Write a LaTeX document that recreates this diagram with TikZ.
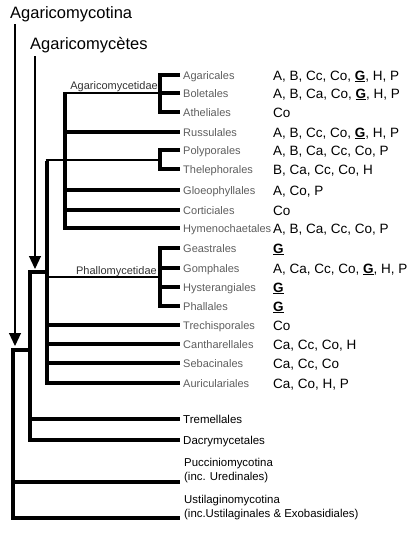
\documentclass[tikz,border=0pt]{standalone}
\usepackage{fontspec}
\setmainfont{Liberation Sans}
\usetikzlibrary{arrows.meta}
\definecolor{lblgray}{HTML}{5E5E5E}
\newcommand{\uG}{\underline{\textbf{G}}}
\begin{document}
\begin{tikzpicture}[x=1pt,y=-1pt,
  br/.style={line width=3.6pt},
  thinbr/.style={line width=1.9pt},
  ord/.style={anchor=base west, inner sep=0pt, font=\fontsize{11}{12}\selectfont, text=lblgray},
  ordb/.style={anchor=base west, inner sep=0pt, font=\fontsize{11.5}{13}\selectfont},
  ordc/.style={anchor=base west, inner sep=0pt, align=left, font=\fontsize{11.4}{14}\selectfont},
  dat/.style={anchor=base west, inner sep=0pt, font=\fontsize{13.5}{15}\selectfont},
  clade/.style={anchor=base east, inner sep=0pt, font=\fontsize{11}{12}\selectfont, text=black!80},
  ttl/.style={anchor=base west, inner sep=0pt, font=\fontsize{16.5}{19}\selectfont},
  arr/.style={line width=1.2pt, -{Triangle[width=12pt,length=13pt]}}]
\useasboundingbox (0,0) rectangle (414,536);

% titles and arrows
\node[ttl] (tA) at (10,18) {Agaricomycotina};
\node[ttl] (tB) at (30,49) {Agaricomycètes};
\coordinate (a1s) at (15,24);
\coordinate (a1e) at (15,346);
\coordinate (a2s) at (35,56);
\coordinate (a2e) at (35,269);
\draw[arr] (a1s) -- (a1e);
\draw[arr] (a2s) -- (a2e);

% leaf tips
\coordinate (agar) at (180,75);
\coordinate (bole) at (180,93);
\coordinate (athe) at (180,112);
\coordinate (russ) at (180,132);
\coordinate (poly) at (180,150);
\coordinate (thel) at (180,169);
\coordinate (gloe) at (180,190);
\coordinate (cort) at (180,210);
\coordinate (hyme) at (180,228);
\coordinate (geas) at (180,248);
\coordinate (gomp) at (180,268);
\coordinate (hyst) at (180,287);
\coordinate (phal) at (180,306);
\coordinate (trec) at (180,325);
\coordinate (cant) at (180,344);
\coordinate (seba) at (180,363);
\coordinate (auri) at (180,383);
\coordinate (trem) at (180,419);
\coordinate (dacr) at (180,440);
\coordinate (pucc) at (180,482);
\coordinate (usti) at (180,518);

% inner nodes
\coordinate (bAga) at (160,93);
\coordinate (bAgaT) at (160,75);
\coordinate (bAgaB) at (160,112);
\coordinate (bPol) at (160,160);
\coordinate (bPolT) at (160,150);
\coordinate (bPolB) at (160,169);
\coordinate (bPha) at (160,277);
\coordinate (bPhaT) at (160,248);
\coordinate (bPhaB) at (160,306);
\coordinate (nAgd) at (65,93);
\coordinate (nAgdB) at (65,228);
\coordinate (nAgc) at (47,160);
\coordinate (nAgcB) at (47,383);
\coordinate (nAgcL) at (45.5,160);
\coordinate (nTD) at (30,272);
\coordinate (nTDr) at (47,272);
\coordinate (nTDB) at (30,440);
\coordinate (nR) at (13,350);
\coordinate (nRr) at (30,350);
\coordinate (nRB) at (13,518);

% brackets
\draw[br] (agar) -- (bAgaT) -- (bAgaB) -- (athe);
\draw[br] (bole) -- (bAga);
\draw[br] (poly) -- (bPolT) -- (bPolB) -- (thel);
\draw[br] (geas) -- (bPhaT) -- (bPhaB) -- (phal);
\draw[br] (gomp -| bPha) -- (gomp);
\draw[br] (hyst -| bPha) -- (hyst);

% Agaricomycetidae
\draw[thinbr] (nAgd) -- (bAga);
\draw[br] ([yshift=0.95pt]nAgd) -- (nAgdB) -- (hyme);
\draw[br] (russ -| nAgd) -- (russ);
\draw[br] (gloe -| nAgd) -- (gloe);
\draw[br] (cort -| nAgd) -- (cort);
\node[clade] (lAgd) at (158,89) {Agaricomycetidae};

% Agaricomycetes backbone
\draw[thinbr] (nAgcL) -- (bPol);
\draw[br] ([yshift=-0.95pt]nAgc) -- (nAgcB) -- (auri);
\draw[thinbr] (bPha -| nAgc) -- (bPha);
\node[clade] (lPha) at (157,274) {Phallomycetidae};
\draw[br] (trec -| nAgc) -- (trec);
\draw[br] (cant -| nAgc) -- (cant);
\draw[br] (seba -| nAgc) -- (seba);

% Tremellales + Dacrymycetales
\draw[br] (nTDr) -- (nTD) -- (nTDB) -- (dacr);
\draw[br] (trem -| nTD) -- (trem);

% root
\draw[br] (nRr) -- (nR) -- (nRB) -- (usti);
\draw[br] (pucc -| nR) -- (pucc);

% order labels
\node[ord] (Lagar) at (183,79) {Agaricales};
\node[ord] (Lbole) at (183,97) {Boletales};
\node[ord] (Lathe) at (183,116) {Atheliales};
\node[ord] (Lruss) at (183,136) {Russulales};
\node[ord] (Lpoly) at (183,154) {Polyporales};
\node[ord] (Lthel) at (183,173) {Thelephorales};
\node[ord] (Lgloe) at (183,194) {Gloeophyllales};
\node[ord] (Lcort) at (183,214) {Corticiales};
\node[ord] (Lhyme) at (183,232) {Hymenochaetales};
\node[ord] (Lgeas) at (183,252) {Geastrales};
\node[ord] (Lgomp) at (183,272) {Gomphales};
\node[ord] (Lhyst) at (183,291) {Hysterangiales};
\node[ord] (Lphal) at (183,310) {Phallales};
\node[ord] (Ltrec) at (183,329) {Trechisporales};
\node[ord] (Lcant) at (183,348) {Cantharellales};
\node[ord] (Lseba) at (183,367) {Sebacinales};
\node[ord] (Lauri) at (183,387) {Auriculariales};
\node[ordb] (Ltrem) at (183,423) {Tremellales};
\node[ordb] (Ldacr) at (183,444) {Dacrymycetales};
\node[ordc] (Lpucc) at (184,480) {Pucciniomycotina\\(inc. Uredinales)};
\node[ordc] (Lusti) at (184,517) {Ustilaginomycotina\\(inc.Ustilaginales \& Exobasidiales)};

% data column
\node[dat] (Dagar) at (273,80) {A, B, Cc, Co, \uG, H, P};
\node[dat] (Dbole) at (273,98) {A, B, Ca, Co, \uG, H, P};
\node[dat] (Dathe) at (273,117) {Co};
\node[dat] (Druss) at (273,137) {A, B, Cc, Co, \uG, H, P};
\node[dat] (Dpoly) at (273,155) {A, B, Ca, Cc, Co, P};
\node[dat] (Dthel) at (273,174) {B, Ca, Cc, Co, H};
\node[dat] (Dgloe) at (273,195) {A, Co, P};
\node[dat] (Dcort) at (273,215) {Co};
\node[dat] (Dhyme) at (273,233) {A, B, Ca, Cc, Co, P};
\node[dat] (Dgeas) at (273,253) {\uG};
\node[dat] (Dgomp) at (273,273) {A, Ca, Cc, Co, \uG, H, P};
\node[dat] (Dhyst) at (273,292) {\uG};
\node[dat] (Dphal) at (273,311) {\uG};
\node[dat] (Dtrec) at (273,330) {Co};
\node[dat] (Dcant) at (273,349) {Ca, Cc, Co, H};
\node[dat] (Dseba) at (273,368) {Ca, Cc, Co};
\node[dat] (Dauri) at (273,388) {Ca, Co, H, P};
\end{tikzpicture}
\end{document}
